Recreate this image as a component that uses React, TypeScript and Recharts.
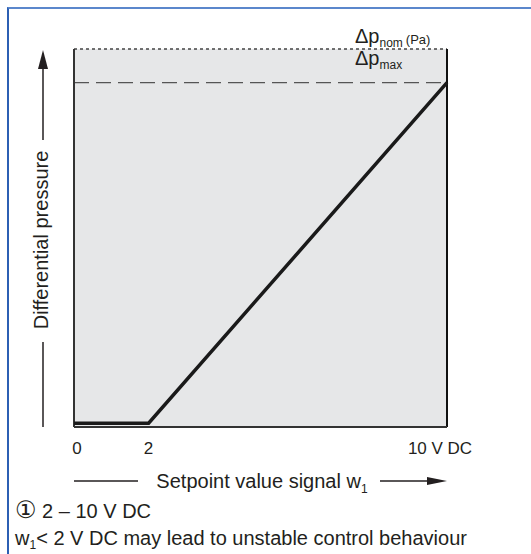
import React from 'react';
import {
  ComposedChart,
  Line,
  XAxis,
  YAxis,
  ReferenceArea,
  ReferenceLine,
  Label,
} from 'recharts';

// ---- data ----
const signal = [0, 2, 10];
const pressure = [0, 0, 91];
const xTicks = [0, 2, 10];
const xTickLabels = ['0', '2', '10 V DC'];
const dpNom = 100;
const dpMax = 91;
const yMin = -1;
const xTitle = 'Setpoint value signal w';
const yTitle = 'Differential pressure';
const note1 = '2 – 10 V DC';
const note2 = '< 2 V DC may lead to unstable control behaviour';

const data = signal.map((s, i) => ({ signal: s, pressure: pressure[i] }));

const FONT = '"Liberation Sans", Arial, Helvetica, sans-serif';
const INK = '#231f20';

const renderTick = (props: any) => {
  const { x, y, payload } = props;
  const idx = xTicks.indexOf(payload.value);
  const label = xTickLabels[idx] ?? String(payload.value);
  const dx = payload.value === 10 ? -7 : payload.value === 0 ? 3 : 0;
  return (
    <text
      x={x + dx}
      y={y + 27}
      textAnchor="middle"
      fontFamily={FONT}
      fontSize={17}
      fill={INK}
    >
      {label}
    </text>
  );
};

const XTitle = (props: any) => {
  const vb = props.viewBox || { x: 74, y: 427, width: 373, height: 0 };
  const x0 = vb.x;
  const x1 = vb.x + vb.width;
  const ly = 481;
  return (
    <g>
      <line x1={x0} x2={x0 + 64} y1={ly} y2={ly} stroke={INK} strokeWidth={1.5} />
      <text x={262} y={488} textAnchor="middle" fontFamily={FONT} fontSize={20} fill={INK}>
        {xTitle}
        <tspan fontSize={12} dy={5}>1</tspan>
      </text>
      <line x1={380} x2={x1 - 18} y1={ly} y2={ly} stroke={INK} strokeWidth={1.5} />
      <polygon points={`${x1},${ly} ${x1 - 20},${ly - 4} ${x1 - 20},${ly + 4}`} fill={INK} />
    </g>
  );
};

const YTitle = () => {
  const lx = 43;
  return (
    <g>
      <polygon points={`${lx},50 ${lx - 5},69 ${lx + 5},69`} fill={INK} />
      <line x1={lx} x2={lx} y1={66} y2={140} stroke={INK} strokeWidth={1.5} />
      <text
        x={48}
        y={240}
        transform="rotate(-90, 48, 240)"
        textAnchor="middle"
        fontFamily={FONT}
        fontSize={20}
        fill={INK}
      >
        {yTitle}
      </text>
      <line x1={lx} x2={lx} y1={342} y2={427} stroke={INK} strokeWidth={1.5} />
    </g>
  );
};

const DpLabel = (sub: string, extra: string, baseDy: number) => (props: any) => {
  const vb = props.viewBox || { x: 74, y: 0, width: 373 };
  return (
    <text x={355} y={vb.y + baseDy} fontFamily={FONT} fontSize={20} fill={INK}>
      Δp
      <tspan fontSize={12} dy={4}>{sub}</tspan>
      {extra ? (
        <tspan fontSize={13} dy={-3} dx={3}>{extra}</tspan>
      ) : null}
    </text>
  );
};

export default function App() {
  return (
    <div style={{ position: 'absolute', left: 0, top: 0, width: 531, height: 554, background: '#fff' }}>
      <div
        style={{
          position: 'absolute',
          left: 7,
          top: 7,
          width: 524,
          height: 547,
          borderLeft: '2px solid #2c5fb3',
          borderTop: '2px solid #5b87cc',
          boxSizing: 'border-box',
        }}
      />
      <ComposedChart
        width={531}
        height={554}
        data={data}
        margin={{ top: 49, right: 84, left: 0, bottom: 87 }}
        style={{ position: 'absolute', left: 0, top: 0 }}
      >
        <XAxis
          dataKey="signal"
          type="number"
          domain={[0, 10]}
          ticks={xTicks}
          tick={renderTick}
          tickLine={false}
          axisLine={false}
          tickSize={0}
          tickMargin={0}
          height={40}
          interval={0}
        >
          <Label content={<XTitle />} />
        </XAxis>
        <YAxis
          type="number"
          domain={[yMin, dpNom]}
          width={74}
          tick={false}
          tickLine={false}
          axisLine={false}
        >
          <Label content={<YTitle />} />
        </YAxis>
        <ReferenceArea x1={0} x2={10} y1={yMin} y2={dpNom} fill="#e6e7e8" fillOpacity={1} stroke="none" />
        <ReferenceLine
          y={dpMax}
          stroke="#555"
          strokeWidth={1.3}
          strokeDasharray="15 7"
          label={DpLabel('max', '', -18)}
        />
        <ReferenceLine
          y={dpNom}
          stroke="#444"
          strokeWidth={1.3}
          strokeDasharray="3 3"
          label={DpLabel('nom', '(Pa)', -6)}
        />
        <ReferenceLine x={0} stroke="#333" strokeWidth={2} />
        <ReferenceLine x={10} stroke="#111" strokeWidth={2} />
        <ReferenceLine y={yMin} stroke="#333" strokeWidth={2} />
        <Line
          type="linear"
          dataKey="pressure"
          stroke="#1a1a1a"
          strokeWidth={3.5}
          dot={false}
          activeDot={false}
          isAnimationActive={false}
        />
      </ComposedChart>
      <div
        style={{
          position: 'absolute',
          left: 15,
          top: 498,
          fontFamily: FONT,
          fontSize: 20,
          color: INK,
          lineHeight: '24px',
          whiteSpace: 'nowrap',
        }}
      >
        <span style={{ fontFamily: '"DejaVu Sans", sans-serif', fontSize: 24, lineHeight: '24px' }}>①</span> {note1}
      </div>
      <div
        style={{
          position: 'absolute',
          left: 15,
          top: 527,
          fontFamily: FONT,
          fontSize: 20,
          color: INK,
          lineHeight: '22px',
          whiteSpace: 'nowrap',
        }}
      >
        w<sub style={{ fontSize: 12, verticalAlign: '-4px', lineHeight: 0 }}>1</sub>
        {note2}
      </div>
    </div>
  );
}
